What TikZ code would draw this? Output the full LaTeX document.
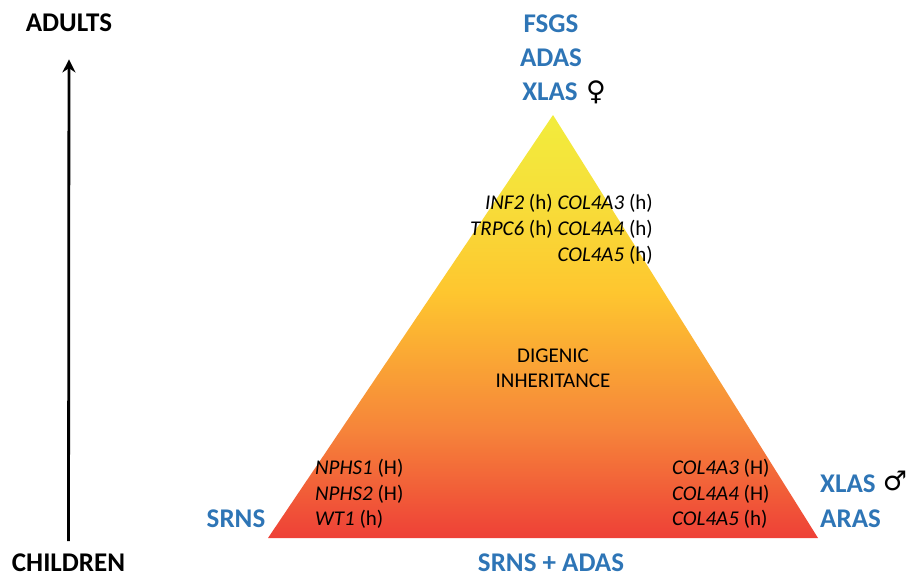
\documentclass[tikz,border=0pt]{standalone}
\usepackage{fontspec}
\setmainfont{Carlito}
\newfontfamily\symbolfont{DejaVu Sans}
\usetikzlibrary{arrows.meta}

\definecolor{labelblue}{RGB}{46,117,182}
\definecolor{pyrred}{RGB}{238,64,55}
\definecolor{pyrorange}{RGB}{246,133,58}
\definecolor{pyramber}{RGB}{254,198,47}
\definecolor{pyrlemon}{RGB}{246,224,58}
\definecolor{pyryellow}{RGB}{242,236,60}
\pgfdeclareverticalshading{pyramid}{100bp}{color(0bp)=(pyrred); color(25bp)=(pyrred); color(38bp)=(pyrorange); color(54bp)=(pyramber); color(66bp)=(pyrlemon); color(75bp)=(pyryellow); color(100bp)=(pyryellow)}

\begin{document}
\begin{tikzpicture}[x=1pt,y=-1pt,
  agelabel/.style={font=\fontsize{27}{31}\selectfont\bfseries,inner sep=0pt,anchor=base},
  bluelabel/.style={font=\fontsize{27}{31}\selectfont\bfseries,text=labelblue,inner sep=0pt,anchor=base},
  genes/.style={font=\fontsize{21}{25}\selectfont,inner sep=0pt},
  sexsign/.style={font=\fontsize{27}{31}\selectfont\symbolfont,inner sep=0pt}]
\useasboundingbox (0,0) rectangle (906,576);
\coordinate (left) at (268,538);
\coordinate (apex) at (553,115);
\coordinate (right) at (818,538);
\shade[shading=pyramid] (left) -- (apex) -- (right) -- cycle;
% age axis
\node[agelabel] (adults) at (69,31) {ADULTS};
\node[agelabel] (children) at (68.5,571) {CHILDREN};
\draw[-{Stealth[length=13pt,width=13pt]},line width=2.8pt,shorten <=12pt,shorten >=28pt] (children) -- (adults);
% phenotypes
\node[bluelabel] (fsgs) at (551,32) {FSGS};
\node[bluelabel] (adastop) at (551,66) {ADAS};
\node[bluelabel] (xlasf) at (550,100) {XLAS};
\node[sexsign] (female) at (596,92) {♀};
\node[bluelabel] (srns) at (236,527) {SRNS};
\node[bluelabel] (srnsadas) at (551,571) {SRNS + ADAS};
\node[bluelabel,anchor=base west] (xlasm) at (820,492) {XLAS};
\node[sexsign] (male) at (895,481) {♂};
\node[bluelabel,anchor=base west] (aras) at (820,527) {ARAS};
% genes
\node[genes,anchor=base east] (inf) at (653,209) {\textit{INF2} (h) \textit{COL4A3} (h)};
\node[genes,anchor=base east] (trpc) at (653,235) {\textit{TRPC6} (h) \textit{COL4A4} (h)};
\node[genes,anchor=base east] (colfive) at (653,261) {\textit{COL4A5} (h)};
\node[genes,anchor=base] (digenic) at (553,362) {DIGENIC};
\node[genes,anchor=base] (inherit) at (553,387) {INHERITANCE};
\node[genes,anchor=base west] (nphsone) at (315,474) {\textit{NPHS1} (H)};
\node[genes,anchor=base west] (nphstwo) at (315,500) {\textit{NPHS2} (H)};
\node[genes,anchor=base west] (wtone) at (315,525) {\textit{WT1} (h)};
\node[genes,anchor=base west] (colthree) at (672,474) {\textit{COL4A3} (H)};
\node[genes,anchor=base west] (colfour) at (672,500) {\textit{COL4A4} (H)};
\node[genes,anchor=base west] (colfiveb) at (672,525) {\textit{COL4A5} (h)};
\end{tikzpicture}
\end{document}
